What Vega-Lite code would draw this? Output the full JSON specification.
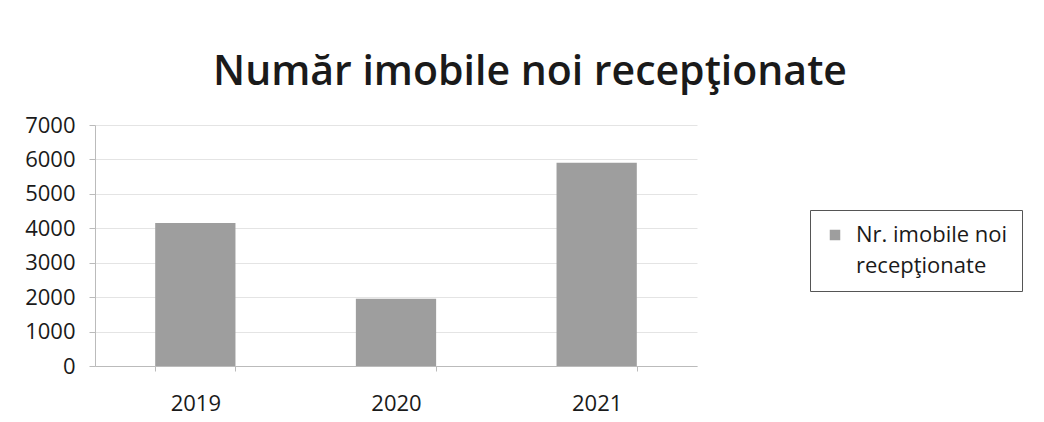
{
  "$schema": "https://vega.github.io/schema/vega-lite/v6.json",
  "width": 602,
  "height": 241,
  "autosize": {"type": "none"},
  "padding": {"left": 95, "top": 125, "right": 347, "bottom": 56},
  "background": "white",
  "data": {
    "values": [
      {"an": "2019", "valoare": 4150, "serie": "Nr. imobile noi recepţionate"},
      {"an": "2020", "valoare": 1950, "serie": "Nr. imobile noi recepţionate"},
      {"an": "2021", "valoare": 5900, "serie": "Nr. imobile noi recepţionate"}
    ]
  },
  "title": {
    "text": "Număr imobile noi recepţionate",
    "anchor": "middle",
    "frame": "group",
    "dx": 134,
    "offset": 20,
    "font": "Open Sans",
    "fontSize": 41,
    "fontWeight": 600,
    "color": "#1a1a1a"
  },
  "mark": {"type": "bar", "color": "#9e9e9e"},
  "encoding": {
    "x": {
      "field": "an",
      "type": "nominal",
      "scale": {"paddingInner": 0.6, "paddingOuter": 0.3},
      "axis": {
        "title": null,
        "labelAngle": 0,
        "labelFont": "Open Sans",
        "labelFontSize": 22,
        "labelColor": "#1a1a1a",
        "labelPadding": 22,
        "tickBand": "extent",
        "tickSize": 5,
        "tickColor": "#bbbbbb",
        "domainColor": "#bbbbbb"
      }
    },
    "y": {
      "field": "valoare",
      "type": "quantitative",
      "scale": {"domain": [0, 7000]},
      "axis": {
        "title": null,
        "format": "d",
        "values": [0, 1000, 2000, 3000, 4000, 5000, 6000, 7000],
        "labelFont": "Open Sans",
        "labelFontSize": 22,
        "labelColor": "#1a1a1a",
        "labelPadding": 14,
        "tickSize": 6,
        "tickColor": "#bbbbbb",
        "domain": true,
        "domainColor": "#bbbbbb",
        "gridColor": "#e4e4e4"
      }
    },
    "color": {
      "field": "serie",
      "type": "nominal",
      "scale": {"range": ["#9e9e9e"]},
      "legend": {
        "title": null,
        "orient": "none",
        "legendX": 715,
        "legendY": 85,
        "padding": 14,
        "strokeColor": "#555555",
        "fillColor": "white",
        "symbolType": "square",
        "symbolSize": 110,
        "symbolStrokeWidth": 0,
        "labelOffset": 10,
        "labelFont": "Open Sans",
        "labelFontSize": 22,
        "labelColor": "#1a1a1a",
        "labelLimit": 300,
        "labelBaseline": "middle",
        "labelAlign": "left",
        "labelExpr": "['Nr. imobile noi', 'recepţionate']",
        "encode": {"labels": {"update": {"lineHeight": {"value": 31}}}}
      }
    }
  },
  "config": {"view": {"stroke": null}}
}
